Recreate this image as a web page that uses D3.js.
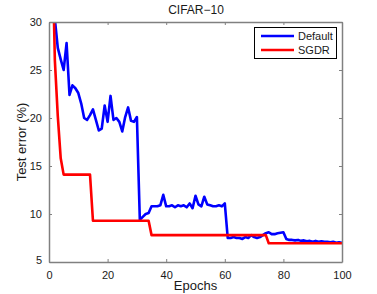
<!DOCTYPE html>
<html><head><meta charset="utf-8">
<script src="https://cdn.jsdelivr.net/npm/d3@7"></script>
<style>body{margin:0;background:#fff}svg{display:block;font-family:"Liberation Sans",Arial,sans-serif}</style>
</head><body><svg id="c" width="377" height="294"></svg>
<script>
const epochs = d3.range(1, 101);
const defaultErr = [40,30.3,27.3,26.1,25.0,27.8,22.4,23.4,23.1,22.6,
21.5,20.0,19.8,20.3,20.9,19.8,18.7,18.9,21.3,19.6,
22.3,19.8,20.0,19.6,18.6,20.1,21.1,19.7,19.6,20.1,
9.4,9.7,10.0,10.1,10.8,10.8,10.8,10.9,12.0,10.8,
10.8,10.9,10.7,10.9,10.8,10.9,10.7,11.1,10.6,11.9,
11.0,10.8,11.8,11.0,10.9,10.8,10.8,10.9,10.8,11.1,
7.5,7.5,7.6,7.5,7.5,7.4,7.6,7.5,7.8,7.6,
7.5,7.6,7.8,8.0,8.1,7.9,7.9,8.0,8.05,8.1,
7.4,7.3,7.3,7.25,7.3,7.2,7.25,7.15,7.2,7.1,
7.2,7.1,7.15,7.1,7.1,7.05,7.1,7.0,7.05,7.0];
const sgdrErr = [40,26,20.2,15.8,14.1,14.1,14.1,14.1,14.1,14.1,
14.1,14.1,14.1,14.1,9.3,9.3,9.3,9.3,9.3,9.3,
9.3,9.3,9.3,9.3,9.3,9.3,9.3,9.3,9.3,9.3,
9.3,9.3,9.3,9.3,7.8,7.8,7.8,7.8,7.8,7.8,
7.8,7.8,7.8,7.8,7.8,7.8,7.8,7.8,7.8,7.8,
7.8,7.8,7.8,7.8,7.8,7.8,7.8,7.8,7.8,7.8,
7.8,7.8,7.8,7.8,7.8,7.8,7.8,7.8,7.8,7.8,
7.8,7.8,7.8,7.8,6.95,6.95,6.95,6.95,6.95,6.95,
6.95,6.95,6.95,6.95,6.95,6.95,6.95,6.95,6.95,6.95,
6.95,6.95,6.95,6.95,6.95,6.95,6.95,6.95,6.95,6.95];
const xTicks = [0,20,40,60,80,100];
const yTicks = [5,10,15,20,25,30];
const seriesNames = ["Default","SGDR"];
const seriesColors = ["#0000ff","#ff0000"];

const L=49,R=342,T=22,B=262;
const svg=d3.select("#c");
const x=d3.scaleLinear().domain([0,100]).range([L,R]);
const y=d3.scaleLinear().domain([5,30]).range([B,T]);
const axisCol="#808080", txtCol="#1a1a1a";

svg.append("defs").append("clipPath").attr("id","clip").append("rect")
 .attr("x",L).attr("y",T).attr("width",R-L).attr("height",B-T);

const line=d3.line().x((d,i)=>x(epochs[i])).y(d=>y(d));
const g=svg.append("g").attr("clip-path","url(#clip)");
[defaultErr,sgdrErr].forEach((s,k)=>{
  g.append("path").attr("d",line(s)).attr("fill","none")
   .attr("stroke",seriesColors[k]).attr("stroke-width",2.6).attr("stroke-linejoin","round");
});

const ax=svg.append("g").attr("transform",`translate(0,${B})`)
  .call(d3.axisBottom(x).tickValues(xTicks).tickSizeInner(-3).tickSizeOuter(0).tickPadding(9));
const axT=svg.append("g").attr("transform",`translate(0,${T})`)
  .call(d3.axisTop(x).tickValues(xTicks).tickSizeInner(-3).tickSizeOuter(0).tickFormat(""));
const ay=svg.append("g").attr("transform",`translate(${L},0)`)
  .call(d3.axisLeft(y).tickValues(yTicks).tickSizeInner(-3).tickSizeOuter(0).tickPadding(7));
const ayR=svg.append("g").attr("transform",`translate(${R},0)`)
  .call(d3.axisRight(y).tickValues(yTicks).tickSizeInner(-3).tickSizeOuter(0).tickFormat(""));
[ax,axT,ay,ayR].forEach(a=>{
  a.selectAll("path").attr("stroke",axisCol).attr("stroke-width",1.5);
  a.selectAll("line").attr("stroke",axisCol);
  a.selectAll("text").attr("fill",txtCol).style("font-size","11px").style("font-family","Liberation Sans, Arial, sans-serif");
});
ay.select(".tick:first-of-type text").attr("dy","0.1em");

svg.append("text").attr("x",196).attr("y",14).attr("text-anchor","middle")
  .attr("fill",txtCol).style("font-size","12px").text("CIFAR\u221210");
svg.append("text").attr("x",(L+R)/2).attr("y",290).attr("text-anchor","middle")
  .attr("fill",txtCol).style("font-size","13px").text("Epochs");
svg.append("text").attr("transform",`translate(26,${(T+B)/2}) rotate(-90)`).attr("text-anchor","middle")
  .attr("fill",txtCol).style("font-size","13px").text("Test error (%)");

const lg=svg.append("g");
lg.append("rect").attr("x",254.5).attr("y",27.5).attr("width",82).attr("height",31)
  .attr("fill","#fff").attr("stroke","#000").attr("stroke-width",1);
seriesNames.forEach((n,k)=>{
  const yy=36+k*14;
  lg.append("line").attr("x1",261).attr("x2",294).attr("y1",yy).attr("y2",yy)
    .attr("stroke",seriesColors[k]).attr("stroke-width",2.6);
  lg.append("text").attr("x",298).attr("y",yy).attr("dy","0.35em").attr("fill",txtCol)
    .style("font-size","11px").text(n);
});
</script></body></html>
